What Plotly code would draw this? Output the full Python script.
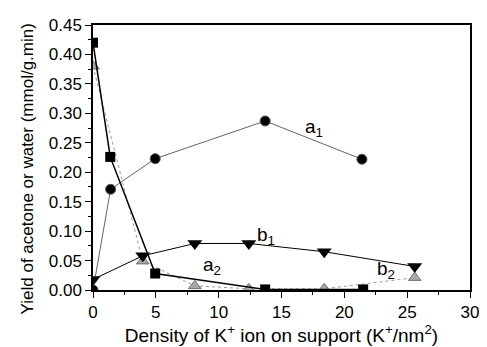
import plotly.graph_objects as go

# Data
a1_x = [0, 1.4, 4.95, 13.7, 21.4]
a1_y = [0.0, 0.171, 0.223, 0.287, 0.222]

a2_x = [0, 1.37, 4.95, 13.7, 21.5]
a2_y = [0.42, 0.226, 0.028, 0.001, 0.001]

b1_x = [0, 3.96, 8.1, 12.4, 18.4, 25.6]
b1_y = [0.018, 0.058, 0.079, 0.079, 0.065, 0.040]

b2_x = [0, 3.96, 8.1, 12.4, 18.4, 25.6]
b2_y = [0.38, 0.049, 0.007, 0.002, 0.002, 0.021]

labels = [("a<sub>1</sub>", 17.6, 0.275), ("a<sub>2</sub>", 9.5, 0.040),
          ("b<sub>1</sub>", 13.8, 0.092), ("b<sub>2</sub>", 23.3, 0.034)]

FONT = "Liberation Sans, Arial, sans-serif"

fig = go.Figure()
fig.add_trace(go.Scatter(x=b2_x, y=b2_y, mode="lines+markers",
                         line=dict(color="#9a9a9a", width=1, dash="dot"),
                         marker=dict(symbol="triangle-up", size=11, color="#a8a8a8",
                                     line=dict(color="#707070", width=1))))
fig.add_trace(go.Scatter(x=a2_x, y=a2_y, mode="lines+markers",
                         line=dict(color="black", width=1.5),
                         marker=dict(symbol="square", size=10, color="black")))
fig.add_trace(go.Scatter(x=b1_x, y=b1_y, mode="lines+markers",
                         line=dict(color="black", width=1),
                         marker=dict(symbol="triangle-down", size=13, color="black")))
fig.add_trace(go.Scatter(x=a1_x, y=a1_y, mode="lines+markers",
                         line=dict(color="#222", width=0.7),
                         marker=dict(symbol="circle", size=10, color="black",
                                     line=dict(color="#555", width=1))))

for txt, x, y in labels:
    fig.add_annotation(x=x, y=y, text=txt, showarrow=False,
                       font=dict(family=FONT, size=19, color="black"))

fig.add_annotation(xref="paper", yref="paper", x=-0.175, y=0.455,
                   xanchor="center", yanchor="middle", textangle=-90,
                   text="Yield of acetone or water (mmol/g.min)", showarrow=False,
                   font=dict(family=FONT, size=17, color="black"))

fig.update_layout(
    width=487, height=347,
    margin=dict(l=93, r=8, t=25, b=55),
    paper_bgcolor="white", plot_bgcolor="white",
    showlegend=False,
    font=dict(family=FONT, size=17, color="black"),
    xaxis=dict(range=[0, 30], tickvals=[0, 5, 10, 15, 20, 25, 30],
               ticks="outside", ticklen=6, tickwidth=1, tickcolor="black",
               minor=dict(dtick=2.5, ticks="outside", ticklen=3, tickcolor="black"),
               showline=True, linecolor="black", linewidth=1.5, mirror=True,
               showgrid=False, zeroline=False, tickfont=dict(size=17),
               title=dict(text="Density of K<sup>+</sup> ion on support (K<sup>+</sup>/nm<sup>2</sup>)",
                          font=dict(size=19), standoff=4)),
    yaxis=dict(range=[0, 0.45], dtick=0.05, tickformat=".2f",
               ticks="outside", ticklen=6, tickwidth=1, tickcolor="black",
               minor=dict(dtick=0.025, ticks="outside", ticklen=3, tickcolor="black"),
               showline=True, linecolor="black", linewidth=1.5, mirror=True,
               showgrid=False, zeroline=False, tickfont=dict(size=17)),
)

fig.write_html("out.html")
